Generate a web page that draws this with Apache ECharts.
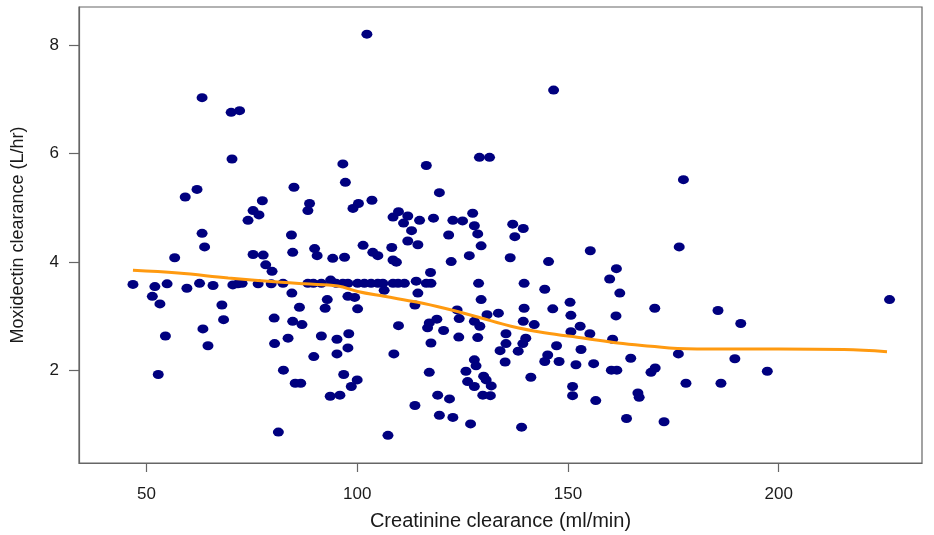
<!DOCTYPE html>
<html>
<head>
<meta charset="utf-8">
<script src="https://cdn.jsdelivr.net/npm/echarts@6/dist/echarts.min.js"></script>
<style>
html,body{margin:0;padding:0;background:#fff;}
#chart{width:934px;height:535px;}
</style>
</head>
<body>
<div id="chart"></div>
<script>
// Creatinine clearance (ml/min)
const creatinine = [
63.2,70.1,72.1,70.3,62.0,59.2,77.5,75.3,76.7,74.1,63.2,
63.8,56.7,75.3,77.7,78.3,79.8,46.8,52.0,54.9,59.6,62.6,65.8,70.5,71.7,72.7,76.5,79.6,51.4,53.2,67.9,68.3,80.3,63.4,54.5,64.6,80.4,82.5,52.8,81.3,
102.3,96.6,85.0,97.2,88.7,88.3,100.3,99.0,103.5,84.4,108.5,109.8,112.0,111.0,112.9,114.8,116.4,
112.0,114.4,84.7,89.9,90.5,94.2,97.0,101.4,103.7,104.9,108.2,108.5,109.3,82.4,
88.3,89.6,91.5,93.7,95.0,96.6,97.8,100.1,101.7,103.3,104.9,106.1,108.5,109.7,111.2,114.0,
84.5,106.4,114.4,97.8,99.4,92.9,86.3,92.4,100.1,113.7,84.7,86.9,109.8,83.6,91.5,95.2,98.0,97.8,89.7,95.2,108.7,96.8,85.3,86.6,100.0,98.6,93.6,95.9,113.7,107.3,
146.6,129.0,131.4,119.5,118.1,122.7,125.0,127.4,127.8,128.6,121.7,136.9,139.4,137.4,
129.4,126.6,122.3,136.3,145.4,117.4,116.4,117.5,128.8,139.6,144.5,129.4,123.7,139.6,146.4,118.9,117.1,116.7,120.5,124.2,127.8,129.1,130.8,133.5,139.4,142.0,135.3,124.1,128.6,117.5,140.0,139.3,135.3,133.9,138.2,147.3,145.2,144.5,147.9,127.8,128.2,135.1,117.1,125.8,130.0,141.2,126.2,127.8,130.6,131.8,129.8,131.6,119.1,121.9,119.5,122.7,126.9,139.0,
177.4,155.3,176.4,161.5,159.9,162.3,150.5,150.7,161.4,170.6,185.6,152.9,150.7,155.2,160.6,153.1,151.9,156.1,164.9,160.3,161.6,176.2,169.7,170.7,178.0,186.3,151.1,151.1,156.6,166.6,166.9,163.9,172.8,
226.3,191.0,189.6,197.3
];
// Moxidectin clearance (L/hr)
const moxidectin = [
7.03,6.76,6.79,5.90,5.34,5.20,5.13,4.95,4.87,4.77,4.53,
4.28,4.08,4.14,4.13,3.95,3.83,3.59,3.55,3.60,3.52,3.61,3.57,3.58,3.60,3.61,3.60,3.60,3.37,3.23,3.21,2.94,2.97,2.77,2.64,2.46,2.50,2.01,1.93,0.87,
8.20,5.81,5.38,5.47,5.08,4.95,5.08,4.99,5.14,4.50,4.83,4.93,4.85,4.72,4.58,4.77,5.78,
4.39,4.32,4.18,4.25,4.12,4.07,4.09,4.31,4.18,4.12,4.27,4.04,4.00,3.61,
3.61,3.61,3.61,3.67,3.61,3.61,3.61,3.61,3.61,3.61,3.61,3.61,3.61,3.61,3.61,3.65,
3.43,3.48,3.43,3.37,3.35,3.31,3.17,3.15,3.14,3.21,2.91,2.85,2.83,2.60,2.64,2.58,2.68,2.42,2.26,2.31,2.31,1.93,1.77,1.77,1.83,1.71,1.53,1.55,1.36,0.81,
7.17,5.93,5.93,5.28,4.81,4.77,4.76,4.90,4.67,4.52,4.50,4.70,4.62,4.47,
4.30,4.12,4.01,4.08,4.01,3.81,3.61,3.61,3.61,3.61,3.50,3.31,3.12,3.15,3.14,2.95,2.88,2.79,2.74,2.96,2.91,2.82,3.03,3.06,2.91,2.85,2.68,2.62,2.61,2.51,2.60,2.50,2.50,2.37,2.36,2.46,2.29,2.17,2.17,2.20,2.09,2.16,1.97,1.99,1.90,1.88,1.80,1.71,1.83,1.72,1.55,1.54,1.55,1.48,1.18,1.14,1.02,0.96,
5.52,4.21,4.28,3.88,3.69,3.43,3.26,3.02,3.01,3.15,3.11,2.82,2.72,2.68,2.58,2.39,2.11,2.13,2.23,2.01,2.01,2.31,1.97,2.05,1.77,1.77,1.71,1.54,1.45,1.59,1.51,1.12,1.06,
3.31,2.87,2.22,1.99
];
// Smooth (loess) curve
const curveX = [46.8,57.5,69.4,82.0,87.5,95.4,100.1,106.4,114.4,120.7,128.6,136.5,144.4,153.9,161.8,169.7,176.0,186.3,200.0,215.5,225.7];
const curveY = [3.85,3.80,3.71,3.63,3.60,3.56,3.46,3.37,3.26,3.15,2.99,2.82,2.70,2.60,2.51,2.45,2.41,2.40,2.40,2.39,2.35];
const xTicks = [50,100,150,200];
const yTicks = [2,4,6,8];

const scatterData = creatinine.map((x,i)=>[x, moxidectin[i]]);
const curveData = curveX.map((x,i)=>[x, curveY[i]]);

const chart = echarts.init(document.getElementById('chart'), null, {renderer:'canvas'});
const axisCol = '#666';
const txtCol = '#1a1a1a';
const font = 'Liberation Sans, Arial, sans-serif';
chart.setOption({
  animation:false,
  backgroundColor:'#fff',
  grid:{left:79,right:12,top:7,bottom:72,show:true,borderColor:axisCol,borderWidth:1.2,backgroundColor:'transparent',
        outerBoundsMode:'none',containLabel:false},
  xAxis:{
    type:'value',min:34,max:234,
    splitLine:{show:false},
    axisLine:{show:true,lineStyle:{color:axisCol,width:1.2}},
    axisTick:{show:true,customValues:xTicks,length:9,lineStyle:{color:axisCol,width:1.2}},
    axisLabel:{customValues:xTicks,fontSize:17,color:txtCol,margin:23,fontFamily:font},
    name:'Creatinine clearance (ml/min)',nameLocation:'middle',nameGap:48,
    nameTextStyle:{fontSize:20,color:txtCol,fontFamily:font}
  },
  yAxis:{
    type:'value',min:0.3,max:8.7,
    splitLine:{show:false},
    axisLine:{show:true,lineStyle:{color:axisCol,width:1.2}},
    axisTick:{show:true,customValues:yTicks,length:10,lineStyle:{color:axisCol,width:1.2}},
    axisLabel:{customValues:yTicks,fontSize:17,color:txtCol,margin:20,fontFamily:font},
    name:'Moxidectin clearance (L/hr)',nameLocation:'middle',nameGap:52,
    nameTextStyle:{fontSize:18,color:txtCol,fontFamily:font}
  },
  series:[
    {
      type:'scatter',data:scatterData,
      symbol:'path://M0 5a5 5 0 1 0 10 0a5 5 0 1 0 -10 0z',
      symbolSize:[11,9],
      itemStyle:{color:'#00007F',opacity:1},
      z:2
    },
    {
      type:'line',data:curveData,smooth:0.4,showSymbol:false,
      lineStyle:{color:'#FF9A10',width:3},
      z:3
    }
  ]
});
</script>
</body>
</html>
